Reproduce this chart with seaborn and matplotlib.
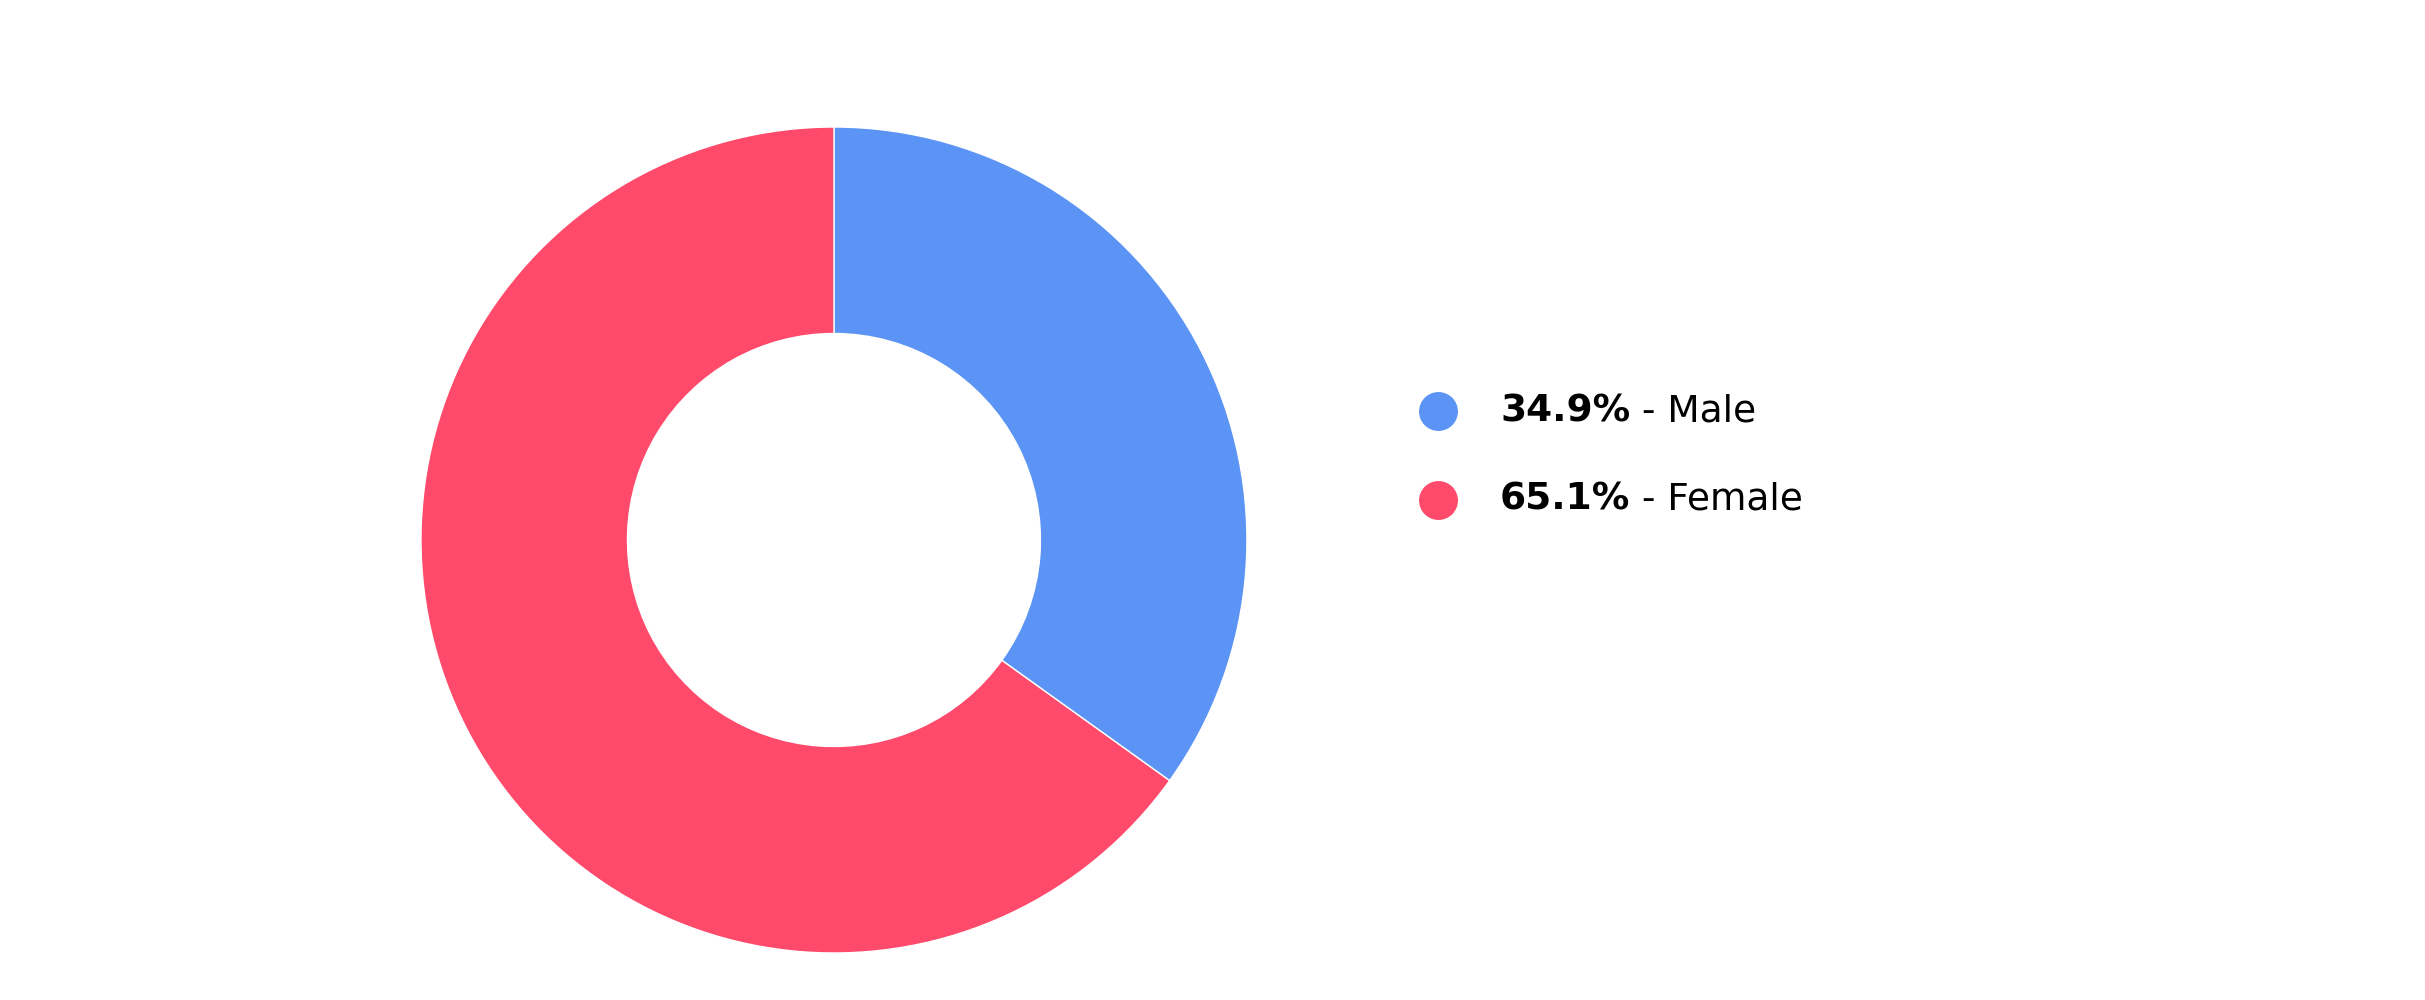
import matplotlib
matplotlib.use("Agg")
import matplotlib.pyplot as plt
import seaborn as sns

# data
labels = ["Male", "Female"]
shares = [34.9, 65.1]
colors = ["#5B94F5", "#FF4A6B"]

sns.set_theme(style="white")
plt.rcParams["font.family"] = ["DejaVu Sans"]

fig = plt.figure(figsize=(24.25, 10), dpi=100)
ax = fig.add_axes([0.1736, 0.047, 0.3406, 0.826])

ax.pie(
    shares,
    colors=colors,
    startangle=90,
    counterclock=False,
    radius=1.0,
    wedgeprops=dict(width=0.5, edgecolor="white", linewidth=1),
)
ax.set_aspect("equal")
ax.set_xlim(-1, 1)
ax.set_ylim(-1, 1)

# custom legend
fig.canvas.draw()
renderer = fig.canvas.get_renderer()
ys = [0.589, 0.500]
for lab, val, col, y in zip(labels, shares, colors, ys):
    fig.patches.append(plt.Circle((1438 / 2425, y), 0.0)) if False else None
    fig.add_artist(plt.Line2D([1438 / 2425], [y], marker="o", markersize=27,
                              color=col, transform=fig.transFigure))
    t = fig.text(1500 / 2425, y, f"{val:.1f}%", fontsize=27, fontweight="bold",
                 va="center", color="black")
    bb = t.get_window_extent(renderer)
    fig.text(bb.x1 / fig.bbox.width, y, f" - {lab}", fontsize=27,
             va="center", color="black")

plt.savefig("out.png", dpi=100)
